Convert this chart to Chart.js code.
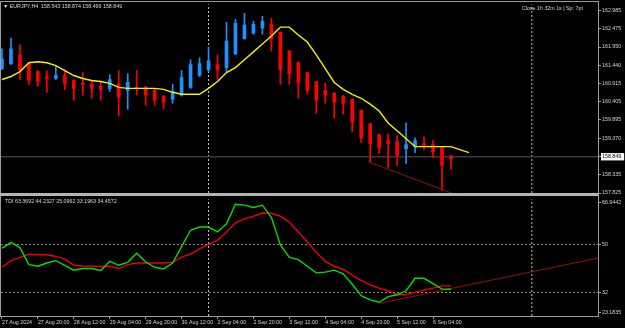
<!DOCTYPE html>
<html>
<head>
<meta charset="utf-8">
<title>EURJPY,H4</title>
<script src="https://cdn.jsdelivr.net/npm/chart.js@4.4.1/dist/chart.umd.min.js"></script>
<style>
    html, body { margin: 0; padding: 0; background: #000; }
    body { width: 625px; height: 328px; position: relative; overflow: hidden; font-family: "Liberation Sans", Arial, sans-serif; }
    canvas { position: absolute; left: 0; }
    #mainChart { top: 0; }
    #tdiChart { top: 195px; }
    .frame { position: absolute; background: #9c9c9c; }
    .caption { position: absolute; color: #d8d8d8; font-size: 5.3px; line-height: 6px; white-space: nowrap; }
</style>
</head>
<body>
<canvas id="mainChart" width="625" height="200"></canvas>
<canvas id="tdiChart" width="625" height="133"></canvas>

<!-- pane frames -->
<div class="frame" style="left:0;top:1px;width:599px;height:1px"></div>
<div class="frame" style="left:0;top:1px;width:1px;height:316px"></div>
<div class="frame" style="left:0;top:193px;width:599px;height:3px;background:#b4b4b4"></div>
<div class="frame" style="left:0;top:316px;width:599px;height:1px"></div>
<div class="frame" style="left:598px;top:1px;width:1px;height:316px"></div>

<div class="caption" style="left:3px;top:3px">&#9660; EURJPY,H4&nbsp; 158.543 158.874 158.499 158.849</div>
<div class="caption" style="left:522px;top:5px">Close 1h 32m 1s | Sp: 7pt</div>
<div class="caption" style="left:5px;top:198px">TDI 63.3692 44.2327 25.0962 33.1963 34.4572</div>

<script>
// EURJPY H4 candles, one entry per bar (bar 0 = 27 Aug 2024 04:00)
const opens = [161.339, 161.479, 161.730, 161.479, 161.255, 161.116, 161.060, 161.144, 161.004, 160.921,
    160.893, 160.837, 160.781, 160.893, 160.725, 160.809, 160.809, 160.725, 160.558, 160.474,
    160.586, 160.809, 161.144, 161.311, 161.451, 161.367, 161.757, 162.176, 162.343, 162.483,
    162.594, 162.371, 161.841, 161.506, 161.228, 160.976, 160.725, 160.642, 160.558, 160.474,
    160.168, 159.777, 159.470, 159.303, 159.275, 159.079, 159.135, 159.219, 159.191, 159.107,
    158.874];
const highs = [161.897, 162.204, 162.009, 161.506, 161.283, 161.283, 161.395, 161.311, 161.032, 161.228,
    160.976, 160.976, 161.172, 161.283, 161.200, 161.283, 160.837, 160.753, 160.586, 160.893,
    161.283, 161.590, 161.646, 161.953, 161.730, 162.650, 162.734, 162.901, 162.678, 162.818,
    162.762, 162.371, 161.841, 161.534, 161.228, 160.976, 160.921, 160.670, 160.586, 160.474,
    160.168, 159.777, 159.498, 159.498, 159.443, 159.805, 159.387, 159.415, 159.303, 159.107,
    158.874];
const lows = [161.311, 161.451, 161.032, 160.893, 160.837, 160.670, 161.032, 160.753, 160.446, 160.586,
    160.501, 160.446, 160.698, 160.000, 160.195, 160.586, 160.307, 160.307, 160.195, 160.366,
    160.558, 160.781, 161.116, 161.255, 161.032, 161.255, 161.730, 162.176, 162.315, 162.315,
    161.841, 160.893, 160.893, 160.501, 160.614, 160.084, 160.366, 159.944, 160.056, 159.554,
    159.247, 158.689, 158.940, 158.549, 158.605, 158.661, 158.968, 159.052, 158.829, 157.908,
    158.499];
const closes = [161.618, 161.897, 161.311, 161.004, 160.976, 161.060, 161.144, 160.921, 160.781, 160.893,
    160.781, 160.753, 161.032, 160.530, 160.949, 160.781, 160.586, 160.446, 160.390, 160.698,
    161.088, 161.451, 161.479, 161.562, 161.311, 162.120, 162.622, 162.566, 162.594, 162.678,
    162.176, 161.311, 161.200, 160.949, 160.725, 160.446, 160.586, 160.390, 160.366, 159.833,
    159.387, 159.219, 159.107, 159.219, 158.884, 159.191, 159.303, 159.135, 158.996, 158.605,
    158.790];

// yellow moving average (drawn 2 bars ahead of price)
const maValues = [161.032, 161.116, 161.255, 161.506, 161.534, 161.506, 161.423, 161.283, 161.144, 161.060,
    161.004, 160.976, 160.921, 160.809, 160.781, 160.781, 160.781, 160.781, 160.753, 160.670,
    160.614, 160.614, 160.614, 160.781, 160.976, 161.228, 161.367, 161.590, 161.813, 162.036,
    162.260, 162.511, 162.511, 162.288, 162.092, 161.730, 161.339, 160.949, 160.753, 160.614,
    160.501, 160.335, 160.140, 159.805, 159.582, 159.359, 159.135, 159.135, 159.135, 159.135,
    159.135, 159.052, 158.968];

// TDI price line (green) and signal line (red)
const tdiPrice = [48.54, 50.74, 48.80, 42.44, 41.81, 43.03, 43.91, 42.18, 40.35, 40.97,
    40.97, 40.24, 43.65, 42.18, 43.28, 46.70, 43.39, 41.45, 40.82, 43.03,
    49.16, 55.30, 56.51, 56.51, 54.67, 57.72, 65.07, 64.70, 63.86, 64.70,
    60.18, 49.79, 45.12, 44.28, 41.81, 39.35, 39.61, 40.35, 38.99, 35.09,
    30.79, 29.21, 28.33, 30.43, 31.16, 32.63, 37.30, 37.30, 35.31, 33.25,
    33.20];
const tdiSignal = [41.45, 43.91, 45.12, 46.33, 46.11, 46.11, 45.49, 44.50, 42.18, 41.92,
    41.81, 41.70, 41.81, 40.97, 42.44, 43.03, 43.03, 43.03, 43.03, 43.28,
    45.23, 46.33, 48.32, 50.01, 51.62, 54.67, 58.09, 59.56, 60.55, 61.76,
    61.65, 60.55, 58.35, 54.67, 51.00, 47.07, 43.65, 41.81, 40.60, 38.51,
    36.56, 34.83, 33.62, 32.63, 31.16, 31.16, 32.01, 32.89, 33.62, 34.47,
    34.46];

// axis ticks
const priceTicks = [162.985, 162.475, 161.950, 161.440, 160.915, 160.405, 159.895, 159.370, 158.849, 158.335, 157.825];
const bidPrice = 158.849;
const tdiTickLabels = ['66.9442', '50', '32', '23.1835'];
const tdiTickValues = [65.65, 50, 32, 24.40];   // top/bottom labels sit just inside the pane
const tdiLevels = [50, 32];
const timeLabels = ['27 Aug 2024', '27 Aug 20:00', '28 Aug 12:00', '29 Aug 04:00', '29 Aug 20:00', '30 Aug 12:00',
    '2 Sep 04:00', '2 Sep 20:00', '3 Sep 12:00', '4 Sep 04:00', '4 Sep 20:00', '5 Sep 12:00', '6 Sep 04:00'];
const timeLabelBars = [0, 4, 8, 12, 16, 20, 24, 28, 32, 36, 40, 44, 48];

// drawn objects
const separatorBars = [23, 59];
const priceTrend = [{ x: 41, y: 158.689 }, { x: 50.3, y: 157.80 }];
const tdiTrend = [{ x: 42, y: 27.9 }, { x: 66.4, y: 44.9 }];

const PRICE_MIN = 157.825, PRICE_MAX = 163.16;
const TDI_MIN = 23.1835, TDI_MAX = 66.9442;
const X_MIN = -0.11, X_MAX = 66.37;

const BULL = '#1e90ff';
const BEAR = '#ff0000';
const TEXT = '#d4d4d4';
const FRAME = '#9c9c9c';
const FONT = { family: '"Liberation Sans", Arial, sans-serif', size: 5.3 };

Chart.defaults.animation = false;
Chart.defaults.events = [];
Chart.defaults.plugins.legend.display = false;
Chart.defaults.plugins.tooltip.enabled = false;

const candleColor = ctx => (closes[ctx.dataIndex] >= opens[ctx.dataIndex] ? BULL : BEAR);

function separatorDatasets(min, max) {
    return separatorBars.map(bar => ({
        type: 'line',
        data: [{ x: bar, y: min }, { x: bar, y: max }],
        borderColor: '#c8c8c8',
        borderWidth: 1,
        borderDash: [2, 2],
        pointRadius: 0,
        order: 9
    }));
}

function buildMainChart() {
    const ctx = document.getElementById('mainChart');
    return new Chart(ctx, {
        type: 'bar',
        data: {
            datasets: [
                {
                    type: 'line',
                    data: maValues.map((v, i) => ({ x: i, y: v })),
                    borderColor: '#f2f200',
                    borderWidth: 1.4,
                    pointRadius: 0,
                    tension: 0,
                    order: 0
                },
                {
                    type: 'line',
                    data: priceTrend,
                    borderColor: '#9a0e0e',
                    borderWidth: 1,
                    pointRadius: 0,
                    order: 1
                },
                {
                    // bodies
                    data: opens.map((o, i) => ({ x: i, y: [o, closes[i]] })),
                    backgroundColor: candleColor,
                    barThickness: 3,
                    minBarLength: 1,
                    grouped: false,
                    order: 2
                },
                {
                    // wicks
                    data: lows.map((l, i) => ({ x: i, y: [l, highs[i]] })),
                    backgroundColor: candleColor,
                    barThickness: 1,
                    grouped: false,
                    order: 3
                },
                {
                    type: 'line',
                    data: [{ x: X_MIN, y: bidPrice }, { x: X_MAX, y: bidPrice }],
                    borderColor: '#3a3a3a',
                    borderWidth: 1.5,
                    pointRadius: 0,
                    order: 8
                },
                ...separatorDatasets(PRICE_MIN, PRICE_MAX)
            ]
        },
        options: {
            responsive: false,
            layout: { padding: { left: 1, top: 2, bottom: 7, right: 0 } },
            scales: {
                x: { type: 'linear', min: X_MIN, max: X_MAX, offset: false, display: false },
                y: {
                    position: 'right',
                    min: PRICE_MIN,
                    max: PRICE_MAX,
                    afterFit: scale => { scale.width = 27; },
                    afterBuildTicks: scale => { scale.ticks = priceTicks.map(v => ({ value: v })); },
                    ticks: {
                        autoSkip: false,
                        padding: 1,
                        font: FONT,
                        color: c => (c.tick && c.tick.value === bidPrice ? '#000' : TEXT),
                        showLabelBackdrop: c => !!(c.tick && c.tick.value === bidPrice),
                        backdropColor: '#ffffff',
                        backdropPadding: { left: 1, right: 3, top: 0.5, bottom: 0.5 },
                        callback: v => v.toFixed(3)
                    },
                    grid: { drawOnChartArea: false, tickLength: 3, color: FRAME },
                    border: { display: false }
                }
            }
        }
    });
}

function buildTdiChart() {
    const ctx = document.getElementById('tdiChart');
    return new Chart(ctx, {
        type: 'line',
        data: {
            datasets: [
                {
                    data: tdiPrice.map((v, i) => ({ x: i, y: v })),
                    borderColor: '#00e000',
                    borderWidth: 1.4,
                    pointRadius: 0,
                    tension: 0,
                    order: 0
                },
                {
                    data: tdiSignal.map((v, i) => ({ x: i, y: v })),
                    borderColor: '#ee0000',
                    borderWidth: 1.4,
                    pointRadius: 0,
                    tension: 0,
                    order: 1
                },
                {
                    data: tdiTrend,
                    borderColor: '#9a0e0e',
                    borderWidth: 1,
                    pointRadius: 0,
                    order: 2
                },
                ...separatorDatasets(TDI_MIN, TDI_MAX)
            ]
        },
        options: {
            responsive: false,
            layout: { padding: { left: 1, top: 1.5, bottom: 0, right: 0 } },
            scales: {
                x: {
                    type: 'linear',
                    min: X_MIN,
                    max: X_MAX,
                    offset: false,
                    afterFit: scale => { scale.height = 12; },
                    afterBuildTicks: scale => { scale.ticks = timeLabelBars.map(v => ({ value: v })); },
                    ticks: {
                        autoSkip: false,
                        maxRotation: 0,
                        align: 'start',
                        padding: 0,
                        font: FONT,
                        color: TEXT,
                        callback: (v, i) => timeLabels[i]
                    },
                    grid: { drawOnChartArea: false, tickLength: 3, color: FRAME },
                    border: { display: false }
                },
                y: {
                    position: 'right',
                    min: TDI_MIN,
                    max: TDI_MAX,
                    afterFit: scale => { scale.width = 27; },
                    afterBuildTicks: scale => { scale.ticks = tdiTickValues.map(v => ({ value: v })); },
                    ticks: {
                        autoSkip: false,
                        padding: 1,
                        font: FONT,
                        color: TEXT,
                        callback: (v, i) => tdiTickLabels[i]
                    },
                    grid: {
                        color: c => (c.tick && tdiLevels.includes(c.tick.value) ? '#8c8c8c' : 'rgba(0,0,0,0)'),
                        tickColor: FRAME,
                        tickLength: 3,
                        lineWidth: 1
                    },
                    border: { display: false, dash: [2, 2] }
                }
            }
        }
    });
}

document.addEventListener('DOMContentLoaded', () => {
    buildMainChart();
    buildTdiChart();
});
</script>
</body>
</html>
